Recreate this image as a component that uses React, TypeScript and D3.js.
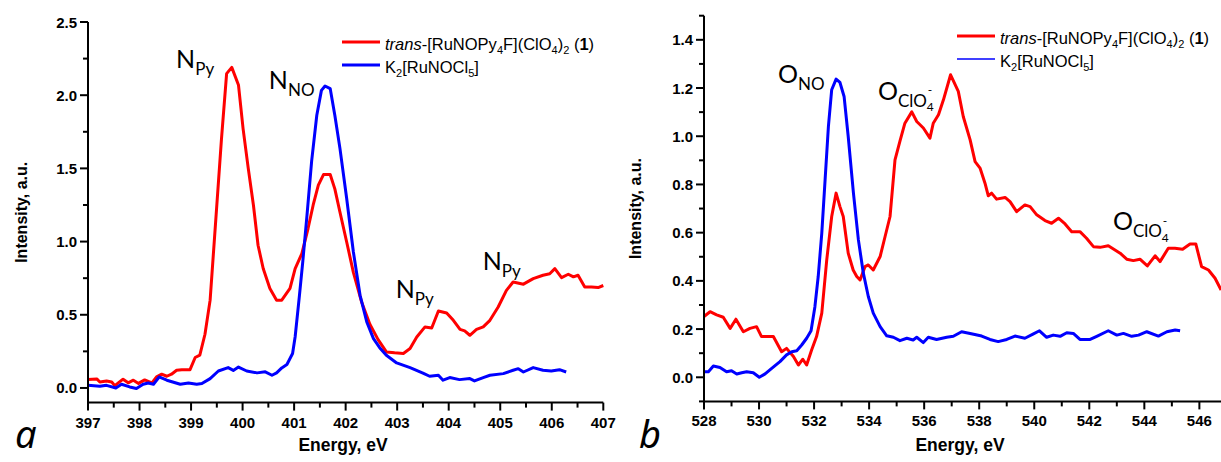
import React from 'react';
import * as d3 from 'd3';

// ---------- Panel a: N K-edge ----------
const nEnergyRed = [397.0, 397.17, 397.23, 397.36, 397.46, 397.52, 397.68, 397.78, 397.88, 397.98, 398.1, 398.24, 398.33, 398.43, 398.53, 398.62, 398.72, 398.82, 398.98, 399.08, 399.17, 399.27, 399.37, 399.45, 399.59, 399.69, 399.79, 399.92, 400.01, 400.11, 400.21, 400.3, 400.4, 400.53, 400.66, 400.76, 400.92, 401.02, 401.15, 401.27, 401.37, 401.47, 401.57, 401.7, 401.79, 401.89, 402.02, 402.15, 402.31, 402.47, 402.63, 402.79, 402.95, 403.12, 403.25, 403.38, 403.54, 403.67, 403.8, 403.96, 404.09, 404.22, 404.31, 404.41, 404.54, 404.67, 404.8, 404.96, 405.12, 405.25, 405.45, 405.64, 405.83, 405.96, 406.06, 406.19, 406.32, 406.42, 406.51, 406.64, 406.77, 406.9, 407.0];
const nIntensityRed = [0.057, 0.062, 0.041, 0.048, 0.041, 0.016, 0.06, 0.035, 0.053, 0.031, 0.055, 0.035, 0.076, 0.094, 0.08, 0.094, 0.121, 0.125, 0.125, 0.208, 0.224, 0.367, 0.6, 1.0, 1.7, 2.147, 2.19, 2.07, 1.77, 1.5, 1.25, 0.975, 0.816, 0.68, 0.6, 0.6, 0.68, 0.816, 0.918, 1.089, 1.25, 1.385, 1.458, 1.458, 1.36, 1.2, 0.997, 0.79, 0.587, 0.435, 0.33, 0.246, 0.24, 0.236, 0.269, 0.348, 0.417, 0.41, 0.526, 0.512, 0.462, 0.4, 0.39, 0.36, 0.4, 0.417, 0.462, 0.553, 0.667, 0.724, 0.709, 0.747, 0.77, 0.78, 0.815, 0.754, 0.777, 0.759, 0.77, 0.69, 0.69, 0.686, 0.7];
const nEnergyBlue = [397.0, 397.23, 397.36, 397.54, 397.65, 397.81, 397.94, 398.07, 398.17, 398.27, 398.38, 398.53, 398.79, 398.95, 399.11, 399.21, 399.37, 399.53, 399.72, 399.82, 399.92, 400.08, 400.28, 400.44, 400.57, 400.66, 400.76, 400.86, 400.97, 401.02, 401.1, 401.17, 401.25, 401.34, 401.44, 401.53, 401.6, 401.7, 401.79, 401.89, 402.02, 402.15, 402.28, 402.41, 402.54, 402.66, 402.79, 402.99, 403.25, 403.5, 403.63, 403.8, 403.89, 404.02, 404.21, 404.41, 404.5, 404.67, 404.8, 405.06, 405.25, 405.35, 405.45, 405.64, 405.83, 405.99, 406.15, 406.28];
const nIntensityBlue = [0.018, 0.011, 0.018, 0.0, 0.025, 0.007, -0.004, 0.025, 0.034, 0.025, 0.075, 0.053, 0.025, 0.034, 0.025, 0.03, 0.064, 0.116, 0.139, 0.12, 0.143, 0.116, 0.103, 0.11, 0.087, 0.103, 0.137, 0.16, 0.235, 0.35, 0.62, 0.87, 1.18, 1.55, 1.863, 2.033, 2.063, 2.045, 1.863, 1.635, 1.294, 0.929, 0.633, 0.451, 0.337, 0.275, 0.223, 0.171, 0.139, 0.102, 0.08, 0.087, 0.053, 0.071, 0.057, 0.064, 0.048, 0.071, 0.087, 0.098, 0.121, 0.132, 0.109, 0.139, 0.121, 0.116, 0.125, 0.109];
const nXTicks = [397, 398, 399, 400, 401, 402, 403, 404, 405, 406, 407];
const nXMinor = [397.5, 398.5, 399.5, 400.5, 401.5, 402.5, 403.5, 404.5, 405.5, 406.5];
const nYTicks = [0, 0.5, 1.0, 1.5, 2.0, 2.5];
const nYMinor = [0.25, 0.75, 1.25, 1.75, 2.25];

// ---------- Panel b: O K-edge ----------
const oEnergyRed = [528.0, 528.22, 528.46, 528.7, 528.95, 529.16, 529.43, 529.67, 529.91, 530.09, 530.52, 530.82, 531.0, 531.25, 531.43, 531.59, 531.73, 531.91, 532.09, 532.28, 532.46, 532.64, 532.8, 532.94, 533.06, 533.24, 533.42, 533.55, 533.67, 533.85, 533.97, 534.15, 534.4, 534.58, 534.76, 534.94, 535.12, 535.3, 535.55, 535.73, 535.97, 536.21, 536.33, 536.52, 536.7, 536.96, 537.24, 537.42, 537.67, 537.85, 538.03, 538.21, 538.33, 538.45, 538.63, 538.94, 539.12, 539.36, 539.66, 539.85, 540.09, 540.39, 540.63, 540.88, 541.12, 541.36, 541.66, 541.9, 542.15, 542.39, 542.69, 543.12, 543.36, 543.6, 543.84, 544.11, 544.39, 544.57, 544.87, 545.11, 545.39, 545.66, 545.87, 546.08, 546.33, 546.57, 546.79];
const oIntensityRed = [0.252, 0.272, 0.259, 0.249, 0.203, 0.241, 0.189, 0.203, 0.21, 0.169, 0.169, 0.106, 0.12, 0.086, 0.051, 0.075, 0.051, 0.113, 0.169, 0.266, 0.487, 0.667, 0.764, 0.708, 0.667, 0.515, 0.445, 0.418, 0.404, 0.459, 0.466, 0.445, 0.501, 0.584, 0.667, 0.902, 0.98, 1.054, 1.101, 1.061, 1.034, 0.992, 1.054, 1.089, 1.151, 1.255, 1.186, 1.082, 0.985, 0.895, 0.868, 0.805, 0.753, 0.764, 0.739, 0.746, 0.729, 0.687, 0.715, 0.708, 0.674, 0.65, 0.639, 0.66, 0.636, 0.604, 0.604, 0.577, 0.542, 0.539, 0.546, 0.515, 0.49, 0.484, 0.49, 0.462, 0.504, 0.48, 0.535, 0.535, 0.531, 0.553, 0.553, 0.459, 0.445, 0.411, 0.362];
const oEnergyBlue = [528.0, 528.16, 528.34, 528.58, 528.82, 529.0, 529.19, 529.37, 529.55, 529.79, 530.01, 530.22, 530.46, 530.76, 531.0, 531.19, 531.37, 531.55, 531.73, 531.89, 532.03, 532.15, 532.28, 532.4, 532.52, 532.64, 532.8, 532.94, 533.09, 533.24, 533.43, 533.61, 533.79, 533.97, 534.15, 534.4, 534.64, 534.88, 535.12, 535.37, 535.6, 535.73, 535.97, 536.15, 536.45, 536.82, 537.06, 537.36, 537.67, 538.09, 538.39, 538.69, 539.0, 539.3, 539.66, 539.97, 540.19, 540.45, 540.69, 540.94, 541.18, 541.42, 541.66, 542.03, 542.27, 542.69, 543.0, 543.24, 543.54, 543.79, 544.09, 544.51, 544.82, 545.12, 545.3];
const oIntensityBlue = [0.023, 0.023, 0.047, 0.041, 0.023, 0.027, 0.014, 0.019, 0.023, 0.019, 0.0, 0.014, 0.037, 0.065, 0.093, 0.106, 0.11, 0.134, 0.162, 0.193, 0.293, 0.418, 0.598, 0.819, 1.04, 1.193, 1.237, 1.223, 1.165, 0.999, 0.764, 0.57, 0.432, 0.335, 0.266, 0.21, 0.172, 0.166, 0.152, 0.162, 0.155, 0.166, 0.144, 0.166, 0.157, 0.166, 0.17, 0.189, 0.182, 0.171, 0.157, 0.148, 0.157, 0.171, 0.162, 0.18, 0.193, 0.166, 0.175, 0.17, 0.185, 0.182, 0.157, 0.157, 0.17, 0.193, 0.175, 0.182, 0.17, 0.175, 0.189, 0.171, 0.189, 0.196, 0.193];
const oXTicks = [528, 530, 532, 534, 536, 538, 540, 542, 544, 546];
const oXMinor = [529, 531, 533, 535, 537, 539, 541, 543, 545];
const oYTicks = [0, 0.2, 0.4, 0.6, 0.8, 1.0, 1.2, 1.4];
const oYMinor = [-0.1, 0.1, 0.3, 0.5, 0.7, 0.9, 1.1, 1.3, 1.5];

const RED = '#ff0000';
const BLUE = '#0000ff';
const AX_FONT = '"Liberation Sans", Arial, sans-serif';
const ANN_FONT = 'Lato, "Open Sans", sans-serif';
const LETTER_FONT = '"Noto Sans", "Open Sans", sans-serif';

type Series = { xs: number[]; ys: number[]; color: string };

function zip(xs: number[], ys: number[]): [number, number][] {
  return xs.map((v, i) => [v, ys[i]] as [number, number]);
}

const SUB = 11;
function RedLegendText() {
  return (
    <>
      <tspan fontStyle="italic">trans</tspan>
      <tspan>-[RuNOPy</tspan>
      <tspan fontSize={SUB} dy={4}>4</tspan>
      <tspan dy={-4}>F](ClO</tspan>
      <tspan fontSize={SUB} dy={4}>4</tspan>
      <tspan dy={-4}>)</tspan>
      <tspan fontSize={SUB} dy={4}>2</tspan>
      <tspan dy={-4}> (</tspan>
      <tspan fontWeight="bold">1</tspan>
      <tspan>)</tspan>
    </>
  );
}
function BlueLegendText() {
  return (
    <>
      <tspan>K</tspan>
      <tspan fontSize={SUB} dy={4}>2</tspan>
      <tspan dy={-4}>[RuNOCl</tspan>
      <tspan fontSize={SUB} dy={4}>5</tspan>
      <tspan dy={-4}>]</tspan>
    </>
  );
}

type PanelProps = {
  left: number; right: number; top: number; bottom: number;
  xDomain: [number, number]; yDomain: [number, number];
  xTicks: number[]; xMinor: number[]; yTicks: number[]; yMinor: number[];
  yFmt: (v: number) => string;
  series: Series[];
  yTitleX: number; xTitleX: number;
  legendX: number; legendY: number; blueLegendWidth: number;
  letter: string; letterX: number;
  children?: (x: d3.ScaleLinear<number, number>, y: d3.ScaleLinear<number, number>) => React.ReactNode;
};

function Panel(p: PanelProps) {
  const x = d3.scaleLinear().domain(p.xDomain).range([p.left, p.right]);
  const y = d3.scaleLinear().domain(p.yDomain).range([p.bottom, p.top]);
  const line = d3.line<[number, number]>().x(d => x(d[0])).y(d => y(d[1]));
  const yb = p.bottom;
  const cy = (p.top + p.bottom) / 2;
  return (
    <g>
      {p.series.map((s, i) => (
        <path key={i} d={line(zip(s.xs, s.ys)) || ''} fill="none" stroke={s.color} strokeWidth={3} strokeLinejoin="round" />
      ))}
      {/* axes */}
      <line x1={p.left} x2={p.left} y1={p.top} y2={yb + 1} stroke="#000" strokeWidth={2} />
      <line x1={p.left - 1} x2={p.right} y1={yb} y2={yb} stroke="#000" strokeWidth={2} />
      {p.xTicks.map(t => (
        <g key={'xt' + t}>
          <line x1={x(t)} x2={x(t)} y1={yb} y2={yb + 8} stroke="#000" strokeWidth={2} />
          <text x={x(t)} y={yb + 25} textAnchor="middle" fontFamily={AX_FONT} fontWeight="bold" fontSize={15}>{t}</text>
        </g>
      ))}
      {p.xMinor.map(t => (
        <line key={'xm' + t} x1={x(t)} x2={x(t)} y1={yb} y2={yb + 5} stroke="#000" strokeWidth={2} />
      ))}
      {p.yTicks.map(t => (
        <g key={'yt' + t}>
          <line x1={p.left - 8} x2={p.left} y1={y(t)} y2={y(t)} stroke="#000" strokeWidth={2} />
          <text x={p.left - 11} y={y(t) + 5.5} textAnchor="end" fontFamily={AX_FONT} fontWeight="bold" fontSize={15}>{p.yFmt(t)}</text>
        </g>
      ))}
      {p.yMinor.map(t => (
        <line key={'ym' + t} x1={p.left - 5} x2={p.left} y1={y(t)} y2={y(t)} stroke="#000" strokeWidth={2} />
      ))}
      <text x={p.xTitleX} y={451} textAnchor="middle" fontFamily={AX_FONT} fontWeight="bold" fontSize={17.5}>Energy, eV</text>
      <text transform={`translate(${p.yTitleX},${cy}) rotate(-90)`} textAnchor="middle" fontFamily={AX_FONT} fontWeight="bold" fontSize={16}>Intensity, a.u.</text>
      {/* legend */}
      <line x1={p.legendX} x2={p.legendX + 38} y1={p.legendY} y2={p.legendY} stroke={RED} strokeWidth={3} />
      <text x={p.legendX + 43} y={p.legendY + 7.5} fontFamily={AX_FONT} fontSize={16.5}><RedLegendText /></text>
      <line x1={p.legendX} x2={p.legendX + 38} y1={p.legendY + 23} y2={p.legendY + 23} stroke={BLUE} strokeWidth={p.blueLegendWidth} />
      <text x={p.legendX + 43} y={p.legendY + 30.5} fontFamily={AX_FONT} fontSize={16.5}><BlueLegendText /></text>
      <text x={p.letterX} y={448} fontFamily={LETTER_FONT} fontStyle="italic" fontSize={38}>{p.letter}</text>
      {p.children && p.children(x, y)}
    </g>
  );
}

function Sub({ x, y, main, sub }: { x: number; y: number; main: string; sub: string }) {
  return (
    <text x={x} y={y} fontFamily={ANN_FONT} fontSize={25}>
      <tspan>{main}</tspan>
      <tspan fontSize={17} dy={7}>{sub}</tspan>
    </text>
  );
}
function ClO4({ x, y }: { x: number; y: number }) {
  return (
    <text x={x} y={y} fontFamily={ANN_FONT} fontSize={25}>
      <tspan>O</tspan>
      <tspan fontSize={17} dy={7}>ClO</tspan>
      <tspan fontSize={12} dy={4.5}>4</tspan>
      <tspan fontSize={12} dx={-6} dy={-17}>-</tspan>
    </text>
  );
}

export default function App() {
  return (
    <svg width={1221} height={462} style={{ position: 'absolute', left: 0, top: 0, background: '#fff' }}>
      <rect width={1221} height={462} fill="#fff" />
      <Panel
        left={88} right={603.3} top={22} bottom={402.6}
        xDomain={[397, 407]} yDomain={[-0.1, 2.5]}
        xTicks={nXTicks} xMinor={nXMinor} yTicks={nYTicks} yMinor={nYMinor}
        yFmt={v => v.toFixed(1)}
        series={[{ xs: nEnergyRed, ys: nIntensityRed, color: RED }, { xs: nEnergyBlue, ys: nIntensityBlue, color: BLUE }]}
        yTitleX={27} xTitleX={343} legendX={342} legendY={42} blueLegendWidth={3}
        letter="a" letterX={15}
      >
        {(x, y) => (
          <>
            <Sub x={x(398.71)} y={y(2.184)} main="N" sub="Py" />
            <Sub x={x(400.51)} y={y(2.044)} main="N" sub="NO" />
            <Sub x={x(402.97)} y={y(0.613)} main="N" sub="Py" />
            <Sub x={x(404.66)} y={y(0.807)} main="N" sub="Py" />
          </>
        )}
      </Panel>
      <Panel
        left={704} right={1221.4} top={15.7} bottom={401.4}
        xDomain={[528, 546.8]} yDomain={[-0.1, 1.5]}
        xTicks={oXTicks} xMinor={oXMinor} yTicks={oYTicks} yMinor={oYMinor}
        yFmt={v => v.toFixed(1)}
        series={[{ xs: oEnergyRed, ys: oIntensityRed, color: RED }, { xs: oEnergyBlue, ys: oIntensityBlue, color: BLUE }]}
        yTitleX={641} xTitleX={960} legendX={957} legendY={36} blueLegendWidth={1.5}
        letter="b" letterX={639}
      >
        {(x, y) => (
          <>
            <Sub x={x(530.69)} y={y(1.22)} main="O" sub="NO" />
            <ClO4 x={x(534.32)} y={y(1.151)} />
            <ClO4 x={x(542.86)} y={y(0.611)} />
          </>
        )}
      </Panel>
    </svg>
  );
}
